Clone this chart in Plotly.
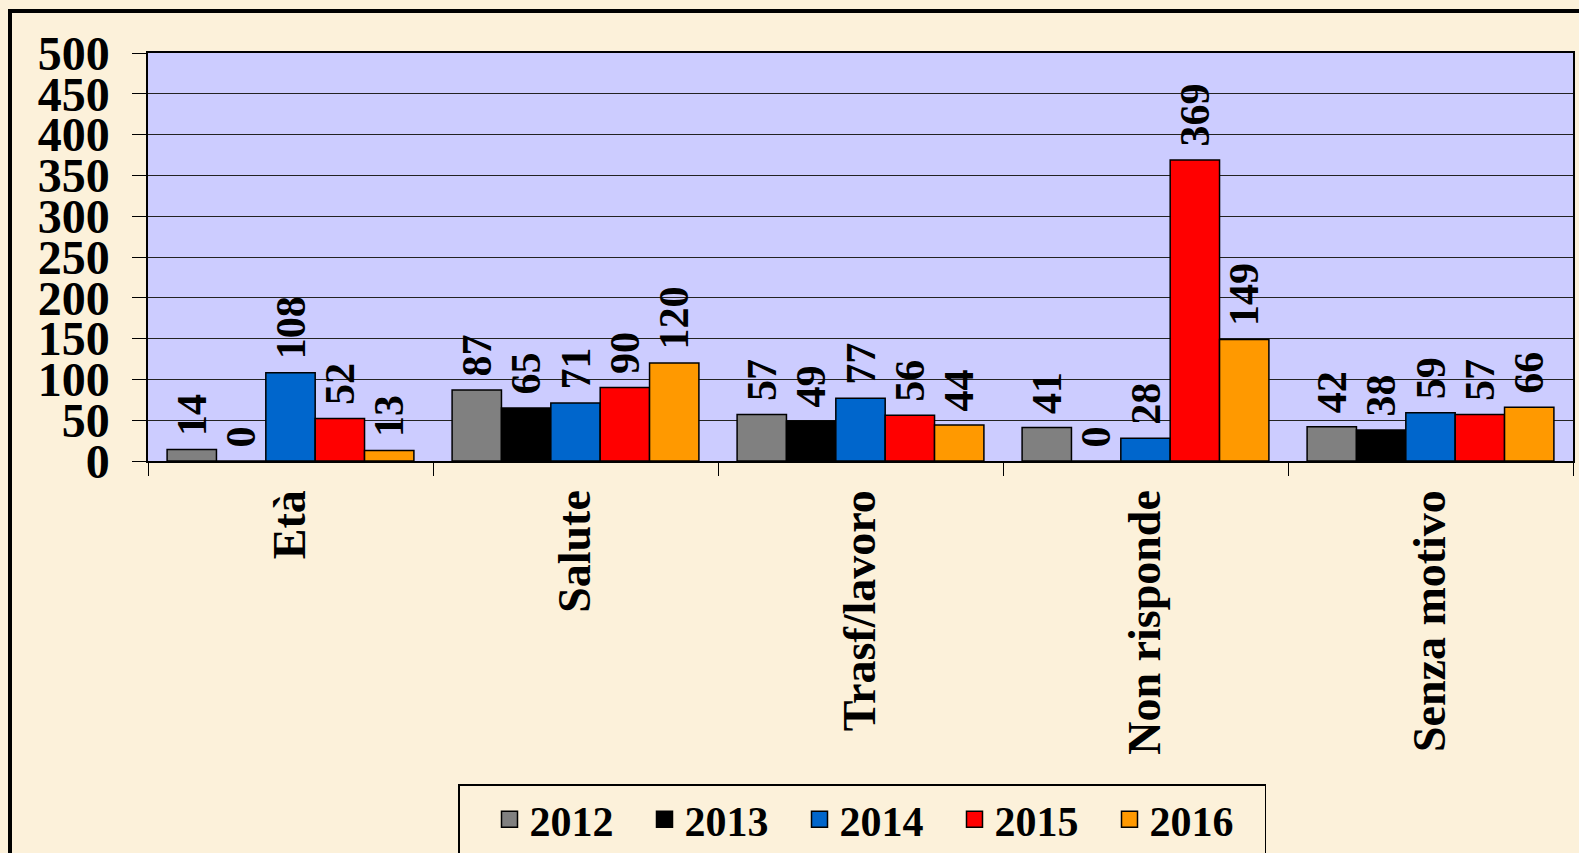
import plotly.graph_objects as go

categories = ["Età", "Salute", "Trasf/lavoro", "Non risponde", "Senza motivo"]
years = ["2012", "2013", "2014", "2015", "2016"]
v2012 = [14, 87, 57, 41, 42]
v2013 = [0, 65, 49, 0, 38]
v2014 = [108, 71, 77, 28, 59]
v2015 = [52, 90, 56, 369, 57]
v2016 = [13, 120, 44, 149, 66]
series = [v2012, v2013, v2014, v2015, v2016]
colors = ["#808080", "#000000", "#0066CC", "#FF0000", "#FF9900"]
y_ticks = [0, 50, 100, 150, 200, 250, 300, 350, 400, 450, 500]

FONT = "Liberation Serif"
W, H = 1579, 853
L, R, T, B = 148, 6, 53, 392
pw, ph = W - L - R, H - T - B

fig = go.Figure()
for name, vals, col in zip(years, series, colors):
    fig.add_trace(go.Bar(
        x=categories, y=vals, name=name, showlegend=False,
        marker=dict(color=col, line=dict(color="black", width=1.5)),
        text=["\u00a0" + str(v) for v in vals], textposition="outside", textangle=-90,
        constraintext="none", cliponaxis=False,
        textfont=dict(family=FONT, size=42, color="black", weight="bold"),
    ))
# legend entries (square swatches)
for name, col in zip(years, colors):
    fig.add_trace(go.Scatter(
        x=[None], y=[None], mode="markers", name=name,
        marker=dict(symbol="square", size=19, color=col, line=dict(color="black", width=1.5)),
    ))

fig.update_layout(
    width=W, height=H,
    margin=dict(l=L, r=R, t=T, b=B, autoexpand=False),
    paper_bgcolor="#FCF1DA",
    plot_bgcolor="#CCCCFF",
    barmode="group", bargap=0.134, bargroupgap=0,
    font=dict(family=FONT, color="black"),
    showlegend=True,
    legend=dict(
        orientation="h", x=(458 - L) / pw, xanchor="left",
        y=-(784 - T - ph) / ph, yanchor="top",
        bgcolor="rgba(0,0,0,0)", bordercolor="black", borderwidth=1.5,
        font=dict(family=FONT, size=42, color="black", weight="bold"),
        entrywidth=110, entrywidthmode="pixels",
        traceorder="normal",
        title=dict(text="\u00a0\u00a0", side="left", font=dict(family=FONT, size=40)),
    ),
    xaxis=dict(
        type="category", tickangle=-90, ticks="outside", tickson="boundaries",
        ticklen=13, tickcolor="black", showline=True, linecolor="black", linewidth=1.5,
        mirror=True, showgrid=False, ticklabelstandoff=9,
        tickfont=dict(family=FONT, size=46, color="black", weight="bold"),
    ),
    yaxis=dict(
        range=[0, 500], tickvals=y_ticks, ticks="outside", ticklen=14, tickcolor="black",
        showline=True, linecolor="black", linewidth=1.5, mirror=True,
        showgrid=True, gridcolor="#222222", gridwidth=1, zeroline=False,
        tickfont=dict(family=FONT, size=48, color="black", weight="bold"),
        ticklabelstandoff=13,
    ),
    shapes=[dict(
        type="rect", xref="paper", yref="paper",
        x0=(10 - L) / pw, x1=(W + 20 - L) / pw,
        y0=-(H + 20 - T - ph) / ph, y1=1 + (T - 11) / ph,
        line=dict(color="black", width=4), fillcolor="rgba(0,0,0,0)", layer="below",
    )],
)

fig.write_html(
    "out.html",
    config={"displayModeBar": False},
    post_script="document.body.style.margin='0';document.body.style.overflow='hidden';",
)
